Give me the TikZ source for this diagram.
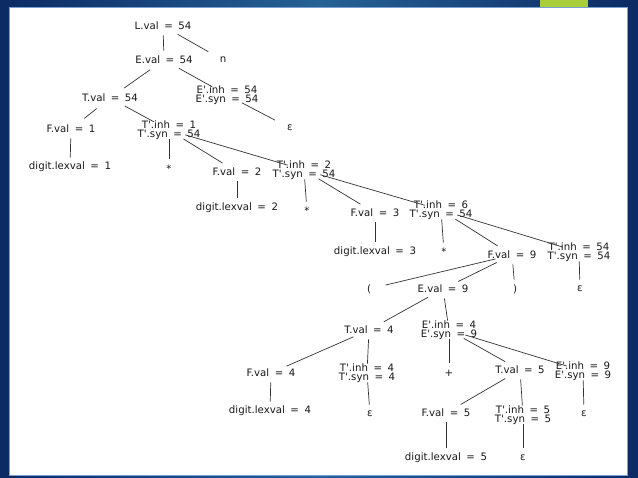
\documentclass[tikz,border=0pt]{standalone}
\usepackage{fontspec}
\newfontfamily\treefont{DejaVu Sans}[WordSpace=1.7]
\usepackage{tikz}
\usetikzlibrary{positioning}
\definecolor{slidenavy}{RGB}{12,42,100}
\definecolor{slideteal}{RGB}{38,98,148}
\definecolor{slidegreen}{RGB}{168,206,58}
\definecolor{slideedge}{RGB}{120,160,210}

\begin{document}
\begin{tikzpicture}[x=1pt,y=-1pt,
  attr/.style={font=\treefont\fontsize{10.2}{9.2}\selectfont,align=center,inner sep=0pt,text=black!90},
  link/.style={draw=black!80,line width=0.7pt},
  dn/.style={link,shorten <=9.5pt,shorten >=9.5pt},
  sl/.style={link,shorten <=17pt,shorten >=17pt}]
  \useasboundingbox (0,0) rectangle (638,478);
  % slide frame
  \shade[left color=slidenavy,right color=slidenavy,middle color=slideteal] (0,0) rectangle (638,478);
  \fill[white,draw=slideedge,line width=0.5pt] (9.5,7.5) rectangle (627.5,475);
  \fill[slidegreen] (540,0) rectangle (588,7.5);

  % annotated parse tree
  \node[attr] (Lv) at (163,26) {L.val = 54};
  \node[attr] (Ev) at (164,60) {E.val = 54};
  \node[attr] (nn) at (223,60) {n};
  \node[attr] (Tv54) at (110,98) {T.val = 54};
  \node[attr] (Ep54) at (227,95) {E'.inh = 54\\E'.syn = 54};
  \node[attr] (Fv1) at (71,129) {F.val = 1};
  \node[attr] (Tp1) at (169,130) {T'.inh = 1\\T'.syn = 54};
  \node[attr] (eps1) at (290,128) {ε};
  \node[attr] (dig1) at (70,167) {digit.lexval = 1};
  \node[attr] (star1) at (169,169) {*};
  \node[attr] (Fv2) at (237,172) {F.val = 2};
  \node[attr] (Tp2) at (304,170) {T'.inh = 2\\T'.syn = 54};
  \node[attr] (dig2) at (237,208) {digit.lexval = 2};
  \node[attr] (star2) at (307,211) {*};
  \node[attr] (Fv3) at (375,213) {F.val = 3};
  \node[attr] (Tp6) at (441,210) {T'.inh = 6\\T'.syn = 54};
  \node[attr] (dig3) at (375,252) {digit.lexval = 3};
  \node[attr] (star3) at (444,252) {*};
  \node[attr] (Fv9) at (512,255) {F.val = 9};
  \node[attr] (Tp54) at (579,252) {T'.inh = 54\\T'.syn = 54};
  \node[attr] (lpar) at (369,289) {(};
  \node[attr] (Ev9) at (443,289) {E.val = 9};
  \node[attr] (rpar) at (515,289) {)};
  \node[attr] (eps2) at (580,289) {ε};
  \node[attr] (Tv4) at (369,330) {T.val = 4};
  \node[attr] (Ep4) at (449,330) {E'.inh = 4\\E'.syn = 9};
  \node[attr] (Fv4) at (271,373) {F.val = 4};
  \node[attr] (Tp4) at (367,373) {T'.inh = 4\\T'.syn = 4};
  \node[attr] (plus) at (449,373) {+};
  \node[attr] (Tv5) at (520,370) {T.val = 5};
  \node[attr] (Ep9) at (583,371) {E'.inh = 9\\E'.syn = 9};
  \node[attr] (dig4) at (270,411) {digit.lexval = 4};
  \node[attr] (eps3) at (370,414) {ε};
  \node[attr] (Fv5) at (446,413) {F.val = 5};
  \node[attr] (Tp5) at (523,415) {T'.inh = 5\\T'.syn = 5};
  \node[attr] (eps4) at (584,414) {ε};
  \node[attr] (dig5) at (446,458) {digit.lexval = 5};
  \node[attr] (eps5) at (523,458) {ε};

  % straight-down links
  \foreach \a/\b in {Lv/Ev,Fv1/dig1,Tp1/star1,Fv2/dig2,Tp2/star2,Fv3/dig3,Tp6/star3,
      Fv9/rpar,Tp54/eps2,Ev9/Ep4,Tv4/Tp4,Fv4/dig4,Tp4/eps3,Ep4/plus,Tv5/Tp5,
      Ep9/eps4,Fv5/dig5,Tp5/eps5}
    \draw[dn] (\a.center) -- (\b.center);
  % slanted links
  \foreach \a/\b in {Lv/nn,Ev/Tv54,Ev/Ep54,Ep54/eps1,Tv54/Fv1,Tv54/Tp1,Tp1/Fv2,Tp1/Tp2,
      Tp2/Fv3,Tp2/Tp6,Tp6/Fv9,Tp6/Tp54,Fv9/lpar,Fv9/Ev9,Ev9/Tv4,Tv4/Fv4,Ep4/Tv5,
      Ep4/Ep9,Tv5/Fv5}
    \draw[sl] (\a.center) -- (\b.center);
\end{tikzpicture}
\end{document}
